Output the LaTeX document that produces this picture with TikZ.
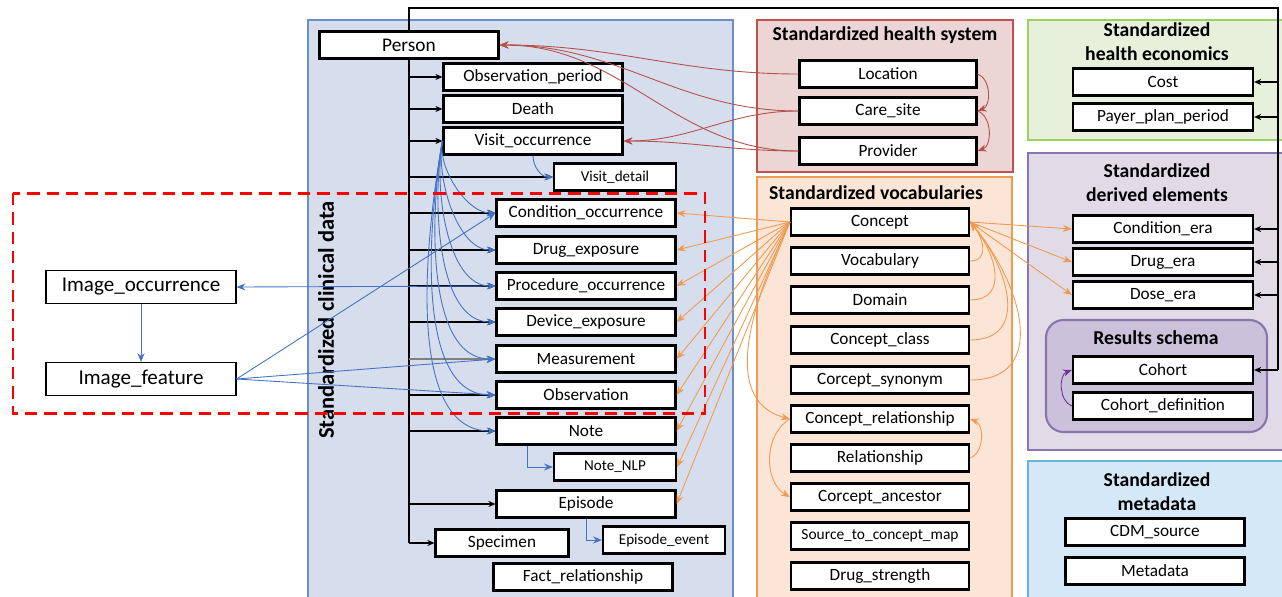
\documentclass[tikz,border=0pt]{standalone}
\usepackage{fontspec}
\setmainfont{Carlito}
\usetikzlibrary{arrows.meta}

\definecolor{clinfill}{HTML}{D6DEEE}
\definecolor{clinline}{HTML}{6C8EC6}
\definecolor{hsfill}{HTML}{EBD5D5}
\definecolor{hsline}{HTML}{C0504D}
\definecolor{vocfill}{HTML}{FBE5D6}
\definecolor{vocline}{HTML}{EE9A55}
\definecolor{ecofill}{HTML}{E6F0DA}
\definecolor{ecoline}{HTML}{9BD25A}
\definecolor{derfill}{HTML}{E1DBE8}
\definecolor{derline}{HTML}{8B74B0}
\definecolor{resfill}{HTML}{CBC1DA}
\definecolor{metfill}{HTML}{D5E8F7}
\definecolor{metline}{HTML}{6CB4D6}
\definecolor{arrblue}{HTML}{4472C4}
\definecolor{arrred}{HTML}{B5504A}
\definecolor{arrorg}{HTML}{F09A50}
\definecolor{arrpur}{HTML}{7030A0}

\tikzset{
  >={Stealth[length=5pt,width=4pt]},
  tbl/.style={draw, line width=1.3pt, fill=white, minimum width=3.58cm,
    minimum height=0.54cm, inner sep=0pt, font=\fontsize{9.8}{11}\selectfont},
  stbl/.style={tbl, minimum width=2.44cm, font=\fontsize{8.6}{10}\selectfont},
  imgtbl/.style={draw, line width=0.6pt, fill=white, minimum width=3.8cm,
    minimum height=0.66cm, inner sep=0pt, font=\fontsize{12}{13}\selectfont},
  panel/.style 2 args={draw=#1, fill=#2, line width=1.2pt},
  ttl/.style={font=\fontsize{11.2}{13.6}\selectfont\bfseries, align=center},
  trunk/.style={-{Stealth[length=4pt,width=3.5pt]}, black, line width=0.6pt},
  bluearr/.style={->, arrblue, line width=0.5pt},
  redarr/.style={->, arrred, line width=0.5pt},
  orgarr/.style={->, arrorg, line width=0.5pt},
}

\begin{document}
\begin{tikzpicture}[x=0.02cm, y=-0.02cm]
  \useasboundingbox (0,0) rectangle (1282,596);

  % Panels
  \draw[panel={clinline}{clinfill}] (308,20) rectangle (733,600);
  \draw[panel={hsline}{hsfill}] (757,20) rectangle (1013,172);
  \draw[panel={vocline}{vocfill}] (757,177) rectangle (1012,600);
  \draw[panel={ecoline}{ecofill}] (1028,20) rectangle (1290,140);
  \draw[panel={derline}{derfill}] (1028,153) rectangle (1290,450);
  \draw[panel={derline}{resfill}, rounded corners=10pt] (1046,320) rectangle (1267,432);
  \draw[panel={metline}{metfill}] (1028,461) rectangle (1290,600);

  % Panel titles
  \node[ttl, font=\fontsize{12.8}{14}\selectfont\bfseries, rotate=90] (clinttl) at (326,320) {Standardized clinical data};
  \node[ttl] (hsttl) at (885,35) {Standardized health system};
  \node[ttl] (vocttl) at (876,193) {Standardized vocabularies};
  \node[ttl] (ecottl) at (1157,42) {Standardized\\health economics};
  \node[ttl] (derttl) at (1157,183) {Standardized\\derived elements};
  \node[ttl] (resttl) at (1156,338) {Results schema};
  \node[ttl] (metttl) at (1157,492) {Standardized\\metadata};

  % Frame line from Person round to the derived tables
  \coordinate (topL) at (409,8);
  \coordinate (topR) at (1278,8);

  % Clinical tables
  \node[tbl, font=\fontsize{11}{12}\selectfont] (person) at (409,45) {Person};
  \node[tbl] (obsp) at (533,77) {Observation\_period};
  \node[tbl] (death) at (533,109) {Death};
  \node[tbl] (vo) at (533,141) {Visit\_occurrence};
  \node[stbl] (vdet) at (615,177) {Visit\_detail};
  \foreach \n/\y/\t in {cond/213/Condition\_occurrence, drug/250/Drug\_exposure,
      proc/286/Procedure\_occurrence, dev/322/Device\_exposure,
      meas/359/Measurement, obsv/395/Observation, note/431/Note,
      epi/504/Episode}
    \node[tbl] (\n) at (586,\y) {\t};
  \node[stbl] (nlp) at (615,467) {Note\_NLP};
  \node[tbl, minimum width=2.66cm] (spec) at (502,543) {Specimen};
  \node[stbl] (eev) at (664,540) {Episode\_event};
  \node[tbl] (fact) at (583,577) {Fact\_relationship};

  % Health system tables
  \node[tbl, minimum width=3.54cm] (loc) at (888,74) {Location};
  \node[tbl, minimum width=3.54cm] (care) at (888,111) {Care\_site};
  \node[tbl, minimum width=3.54cm] (prov) at (888,151) {Provider};

  % Vocabulary tables
  \foreach \n/\y/\t in {concept/222/Concept, vocab/261/Vocabulary,
      domain/300/Domain, cclass/340/Concept\_class, csyn/380/Corcept\_synonym,
      crel/419/Concept\_relationship, rel/458/Relationship,
      canc/497/Corcept\_ancestor, dstr/576/Drug\_strength}
    \node[tbl, minimum width=3.56cm] (\n) at (880,\y) {\t};
  \node[tbl, minimum width=3.56cm, font=\fontsize{8.8}{10}\selectfont] (stcm) at (880,536) {Source\_to\_concept\_map};

  % Health economics, derived, metadata
  \node[tbl, minimum width=3.6cm] (cost) at (1163,82) {Cost};
  \node[tbl, minimum width=3.6cm] (payer) at (1163,117) {Payer\_plan\_period};
  \node[tbl, minimum width=3.6cm] (condera) at (1163,229) {Condition\_era};
  \node[tbl, minimum width=3.6cm] (drugera) at (1163,262) {Drug\_era};
  \node[tbl, minimum width=3.6cm] (doseera) at (1163,295) {Dose\_era};
  \node[tbl, minimum width=3.6cm] (cohort) at (1163,370) {Cohort};
  \node[tbl, minimum width=3.6cm] (cohdef) at (1163,406) {Cohort\_definition};
  \node[tbl] (cdm) at (1155,532) {CDM\_source};
  \node[tbl] (meta) at (1155,571) {Metadata};

  % Imaging tables
  \node[imgtbl] (imgocc) at (141,287) {Image\_occurrence};
  \node[imgtbl] (imgfeat) at (141,379) {Image\_feature};

  % Black frame and trunk arrows
  \draw[line width=0.6pt] (topR |- cohort.east) -- (topR) -- (topL) -- (person.north);
  \draw[line width=0.6pt] (person.south) -- (person.south |- spec.west);
  \foreach \n in {obsp,death,vo,vdet,cond,drug,proc,dev,obsv,note,epi,spec}
    \draw[trunk] (person.south |- \n.west) -- (\n.west);
  \draw[trunk, gray] (person.south |- meas.west) -- (meas.west);
  \foreach \n in {cost,payer,condera,drugera,doseera,cohort}
    \draw[trunk] (topR |- \n.east) -- (\n.east);

  % Health system links
  \draw[redarr] (loc.west) to[out=180,in=0] (person.east);
  \draw[redarr] (care.west) to[out=180,in=0] (person.east);
  \draw[redarr] (prov.west) to[out=180,in=0] (person.east);
  \draw[redarr] (care.west) to[out=180,in=0] (vo.east);
  \draw[redarr] (prov.west) to[out=180,in=0] (vo.east);
  \draw[redarr] (loc.east) to[bend left=70] (care.east);
  \draw[redarr] (care.east) to[bend left=70] (prov.east);

  % Vocabulary links
  \foreach \n in {cond,drug,proc,dev,meas,obsv,note,nlp,epi}
    \draw[orgarr] (concept.west) -- (\n.east);
  \foreach \n in {condera,drugera,doseera}
    \draw[orgarr] (concept.east) -- (\n.west);
  \foreach \n in {vocab,domain,cclass,csyn}
    \draw[orgarr] (\n.east) to[out=0,in=-50,looseness=1.3] (concept.east);
  \draw[orgarr] (concept.west) to[out=-115,in=165] (crel.west);
  \draw[orgarr] (crel.west) to[bend right=60] (canc.west);
  \draw[orgarr] (rel.east) to[bend right=70] (crel.east);

  % Results schema link
  \draw[->, arrpur, line width=0.5pt] (cohdef.west) to[bend left=70] (cohort.west);

  % Visit and event links
  \draw[bluearr] (vo.south) to[out=-90,in=180] (vdet.west);
  \foreach \n in {cond,drug,proc,dev,meas,obsv,note}
    \draw[bluearr] (vo.west) to[out=-100,in=180,looseness=0.8] (\n.west);
  \draw[bluearr] (note.194) |- (nlp.west);
  \draw[bluearr] (epi.south) |- (eev.west);

  % Imaging links
  \draw[bluearr] (imgocc.south) -- (imgfeat.north);
  \draw[bluearr] (proc.west) -- (imgocc.east);
  \foreach \n in {cond,meas,obsv}
    \draw[bluearr] (imgfeat.east) -- (\n.west);

  % Imaging extension frame
  \draw[red, line width=1.7pt, dash pattern=on 7pt off 4pt] (13,193) rectangle (705,413);
\end{tikzpicture}
\end{document}
